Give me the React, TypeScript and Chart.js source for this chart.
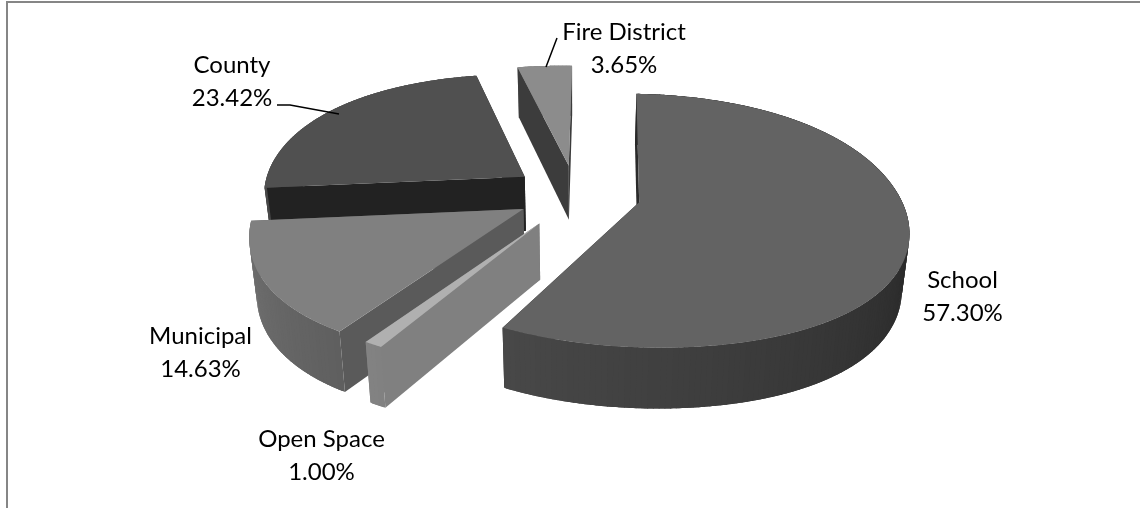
import React, { useEffect, useRef } from "react";
import { Chart, registerables } from "chart.js";

Chart.register(...registerables);

const categories = ["School", "Open Space", "Municipal", "County", "Fire District"];
const shares = [57.3, 1.0, 14.63, 23.42, 3.65];
const explosion = [0.25, 0.27, 0.23, 0.24, 0.24];
const reach = [1, 0.94, 1, 1, 1];
const topGrays = [99, 176, 128, 80, 140];
const startFaceGrays = [42, 128, 90, 34, 60];
const labelCentres: [number, number][] = [[962.5, 296], [321.5, 455], [200.5, 352], [232, 81], [624, 48]];

const FONT = "24px Lato, Carlito, sans-serif";
const RX = 262, RY = 122, KX = 0.15, KX_SLOPE = 0.06, NEAR_SHEAR = 4, KY = 0.145, TILT = 0.012, DEPTH = 55, BOTTOM_SHRINK = 0.977;

const gray = (v: number) => {
  const c = Math.round(Math.max(0, Math.min(255, v)));
  return `rgb(${c},${c},${c})`;
};

const pie3d = {
  id: "pie3d",
  beforeDatasetsDraw(chart: any) {
    const ctx: CanvasRenderingContext2D = chart.ctx;
    const meta = chart.getDatasetMeta(0);
    const ds = chart.data.datasets[0];
    const slices = meta.data.map((el: any, i: number) => {
      const p = el.getProps(["x", "y", "startAngle", "endAngle"], true);
      const a0 = p.startAngle + Math.PI / 2;
      const a1 = p.endAngle + Math.PI / 2;
      const mid = (a0 + a1) / 2;
      return { i, cx: p.x, cy: p.y, a0, a1, mid, e: ds.explode[i] };
    });
    slices.sort((a: any, b: any) => -Math.cos(a.mid) - -Math.cos(b.mid));

    for (const s of slices) {
      const ox = Math.sin(s.mid) * s.e;
      const oy = -Math.cos(s.mid) * s.e;
      const top = (X: number, Y: number) => {
        const wx = X + ox, wy = Y + oy;
        const w = 1 - KY * wy;
        const near = Math.max(wy, 0);
        const px = (RX * wx) / (1 - (KX + KX_SLOPE * wy) * wy) - NEAR_SHEAR * near * near;
        return { x: s.cx + px, y: s.cy + (RY * wy) / w + TILT * px, w };
      };
      const bottom = (X: number, Y: number) => {
        const t = top(X, Y);
        return { x: s.cx + (t.x - s.cx) * BOTTOM_SHRINK, y: t.y + DEPTH / Math.pow(t.w, 0.6) };
      };
      const rim = (a: number, f: (X: number, Y: number) => { x: number; y: number }) =>
        f(Math.sin(a) * reach[s.i], -Math.cos(a) * reach[s.i]);
      const quad = (pts: { x: number; y: number }[], color: string) => {
        ctx.beginPath();
        pts.forEach((q, n) => (n ? ctx.lineTo(q.x, q.y) : ctx.moveTo(q.x, q.y)));
        ctx.closePath();
        ctx.fillStyle = color;
        ctx.fill();
      };
      const base = topGrays[s.i];
      const faceGray = startFaceGrays[s.i];
      const stepSize = (s.a1 - s.a0) / Math.max(2, Math.ceil(((s.a1 - s.a0) * 180) / Math.PI));
      const steps = Math.round((s.a1 - s.a0) / stepSize);

      type Part = { depth: number; draw: () => void };
      const parts: Part[] = [];
      for (let n = 0; n < steps; n++) {
        const a = Math.max(s.a0, s.a0 + stepSize * (n - 0.6));
        const b = Math.min(s.a1, s.a0 + stepSize * (n + 1.6));
        const midA = s.a0 + stepSize * (n + 0.5);
        const deg = (midA * 180) / Math.PI;
        const ratio = 0.376 + (Math.max(90, Math.min(270, deg)) - 90) * 0.00305;
        parts.push({
          depth: -Math.cos(midA),
          draw: () => {
            const pts = [];
            for (let q = 0; q <= 4; q++) pts.push(rim(a + ((b - a) * q) / 4, top));
            for (let q = 4; q >= 0; q--) pts.push(rim(a + ((b - a) * q) / 4, bottom));
            quad(pts, gray(base * ratio));
          },
        });
      }
      const radial = (a: number, color: string) => ({
        depth: -Math.cos(a) * 0.5,
        draw: () => quad([top(0, 0), rim(a, top), rim(a, bottom), bottom(0, 0)], color),
      });
      parts.push(radial(s.a0, gray(faceGray)));
      parts.push(radial(s.a1, gray(faceGray)));
      parts.sort((p, q) => p.depth - q.depth);
      parts.forEach((p) => p.draw());

      const outline = [top(0, 0)];
      for (let n = 0; n <= steps * 2; n++) outline.push(rim(s.a0 + (stepSize * n) / 2, top));
      quad(outline, ds.backgroundColor[s.i]);
    }
    return false;
  },
  afterDraw(chart: any) {
    const ctx: CanvasRenderingContext2D = chart.ctx;
    ctx.save();
    ctx.strokeStyle = "#000";
    ctx.lineWidth = 1.5;
    ctx.beginPath();
    ctx.moveTo(277, 105);
    ctx.lineTo(290, 105);
    ctx.lineTo(339, 114);
    ctx.moveTo(557, 38);
    ctx.lineTo(546, 67);
    ctx.stroke();
    ctx.fillStyle = "#000";
    ctx.font = FONT;
    ctx.textAlign = "center";
    ctx.textBaseline = "alphabetic";
    categories.forEach((name, i) => {
      const [x, y] = labelCentres[i];
      ctx.fillText(name, x, y - 8.5);
      ctx.fillText(`${shares[i].toFixed(2)}%`, x, y + 24.5);
    });
    ctx.restore();
  },
};

export default function App() {
  const ref = useRef<HTMLCanvasElement>(null);
  useEffect(() => {
    const chart = new Chart(ref.current as HTMLCanvasElement, {
      type: "pie",
      data: {
        labels: categories,
        datasets: [
          {
            data: shares,
            backgroundColor: topGrays.map(gray),
            borderWidth: 0,
            offset: 40,
            explode: explosion,
          } as any,
        ],
      },
      options: {
        animation: false,
        responsive: false,
        devicePixelRatio: 1,
        rotation: 0.7,
        layout: { padding: { left: 10, right: 0, top: 0, bottom: 120 } },
        plugins: { legend: { display: false }, tooltip: { enabled: false } },
      },
      plugins: [pie3d],
    } as any);
    return () => chart.destroy();
  }, []);
  return (
    <div style={{ position: "fixed", left: 0, top: 0, width: 1140, height: 508, background: "#fff", overflow: "hidden" }}>
      <div
        style={{
          position: "absolute",
          left: 6,
          top: 1,
          right: 0,
          bottom: 0,
          borderLeft: "2px solid #868686",
          borderTop: "2px solid #868686",
        }}
      />
      <canvas ref={ref} width={1140} height={508} style={{ position: "absolute", left: 0, top: 0, display: "block" }} />
    </div>
  );
}
